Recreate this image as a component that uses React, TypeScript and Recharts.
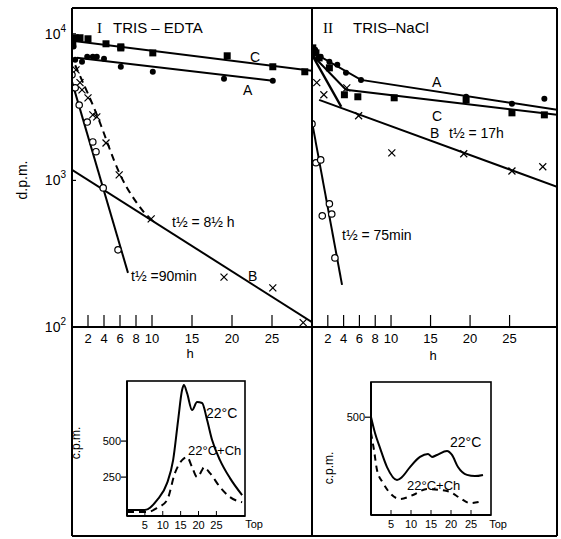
import React from 'react';
import { ComposedChart, LineChart, Line, Scatter, XAxis, YAxis } from 'recharts';

const W = 561;
const H = 539;
const FONT = '"Liberation Sans", Arial, sans-serif';
const AX_H = 30; // reserved axis height
const AX_W = 30; // reserved axis width

// ---------- shared axis ticks ----------
const hourTicks = [2, 4, 6, 8, 10, 15, 20, 25];
const dpmTicks = [100, 1000, 10000];
const dpmExp: Record<number, string> = { 100: '2', 1000: '3', 10000: '4' };
const fractionTicks = [5, 10, 15, 20, 25];

// ---------- Panel I : TRIS-EDTA ----------
const I_squareH = [0.1, 0.4, 1.0, 2.0, 4.25, 6.1, 6.1, 10.1, 19.4, 25.1, 29.1];
const I_squareV = [8820, 9400, 9400, 9250, 8550, 8150, 8010, 7410, 7080, 5960, 5510];
const I_dotH = [0.2, 0.4, 1.25, 1.9, 2.6, 3.1, 4.0, 6.1, 10.1, 19.0, 25.1];
const I_dotV = [8200, 6650, 6440, 6970, 6970, 6970, 6750, 5960, 5510, 4930, 4780];
const I_crossH = [0.5, 1.0, 1.25, 2.0, 2.6, 3.1, 4.25, 5.9, 9.9, 19.0, 25.1, 28.9];
const I_crossV = [5680, 4640, 4150, 3660, 2800, 2710, 1800, 1090, 546, 219, 185, 107];
const I_ringH = [0.0, 0.4, 0.9, 1.9, 2.6, 3.0, 3.9, 5.75];
const I_ringV = [5250, 4280, 3270, 2500, 1830, 1570, 889, 336];

const I_lineCH = [0, 30];
const I_lineCV = [8960, 5600];
const I_lineAH = [0.6, 25.1];
const I_lineAV = [6860, 4780];
const I_lineBH = [0, 30];
const I_lineBV = [1180, 108];
const I_dashBH = [0.4, 3.0, 6.0, 9.6];
const I_dashBV = [6100, 2900, 1100, 550];
const I_lineRingH = [0, 7.0];
const I_lineRingV = [4700, 234];

// ---------- Panel II : TRIS-NaCl ----------
const II_squareH = [0.1, 0.5, 0.9, 2.2, 4.1, 5.8, 10.4, 19.5, 25.3, 29.4];
const II_squareV = [8020, 7410, 6850, 5860, 3840, 3720, 3660, 3540, 2890, 2800];
const II_dotH = [0.4, 1.1, 2.2, 3.2, 4.3, 6.2, 19.5, 25.3, 29.4];
const II_dotV = [7780, 6970, 6440, 6140, 5420, 4850, 3720, 3330, 3600];
const II_crossH = [0.6, 1.5, 4.4, 5.9, 10.1, 19.2, 25.3, 29.2];
const II_crossV = [4640, 3840, 4280, 2760, 1540, 1520, 1160, 1240];
const II_ringH = [0.0, 0.5, 1.1, 2.2, 1.3, 2.5, 2.9];
const II_ringV = [2430, 1320, 1380, 692, 573, 590, 296];

const II_lineAH = [0, 6.2, 31];
const II_lineAV = [7540, 4850, 3030];
const II_lineCH = [0, 4.3, 31];
const II_lineCV = [7190, 4150, 2800];
const II_lineBH = [0.9, 31];
const II_lineBV = [3540, 904];
const II_fastBH = [0, 3.7];
const II_fastBV = [7190, 3180];
const II_lineRingH = [0, 3.8];
const II_lineRingV = [2510, 194];

// ---------- Inset 1 (gradient, TRIS-EDTA) ----------
const in1SolidX = [0, 5.0, 8.4, 11.2, 12.9, 14.3, 15.4, 15.9, 16.8, 18.2, 19.6, 21.0, 22.4, 23.8, 26.0, 28.8, 32.2];
const in1SolidY = [21, 21, 90, 208, 368, 646, 854, 889, 833, 715, 771, 764, 646, 507, 368, 243, 125];
const in1DashX = [0, 5.6, 8.4, 11.2, 13.4, 15.4, 16.8, 18.2, 19.6, 21.0, 21.5, 23.2, 26.0, 28.8, 32.2];
const in1DashY = [7, 7, 35, 90, 278, 368, 389, 319, 250, 299, 319, 278, 181, 111, 76];

// ---------- Inset 2 (gradient, TRIS-NaCl) ----------
const in2SolidX = [0, 1.0, 2.25, 4.0, 6.5, 7.75, 9.75, 12.25, 14.25, 15.25, 16.5, 19, 20.25, 21.75, 24, 26, 28];
const in2SolidY = [501, 419, 343, 245, 179, 194, 245, 297, 312, 297, 307, 327, 307, 245, 205, 199, 205];
const in2DashX = [0, 0.75, 1.5, 3, 4.75, 7.25, 10.5, 14, 17.25, 19.75, 22.25, 24.75, 28];
const in2DashY = [419, 332, 230, 164, 112, 82, 102, 133, 128, 118, 87, 61, 72];

const zipHV = (h: number[], v: number[]) => h.map((x, i) => ({ h: x, v: v[i] }));
const zipXY = (x: number[], y: number[]) => x.map((a, i) => ({ x: a, y: y[i] }));

// ---------- marker shapes ----------
const Square = (p: any) => <rect x={p.cx - 3.5} y={p.cy - 3.5} width={7} height={7} fill="#000" />;
const Dot = (p: any) => <circle cx={p.cx} cy={p.cy} r={3} fill="#000" />;
const Ring = (p: any) => (
  <circle cx={p.cx} cy={p.cy} r={3.2} fill="#fff" stroke="#000" strokeWidth={1.2} />
);
const Cross = (p: any) => (
  <g stroke="#000" strokeWidth={1.2}>
    <line x1={p.cx - 3.5} y1={p.cy - 3.5} x2={p.cx + 3.5} y2={p.cy + 3.5} />
    <line x1={p.cx - 3.5} y1={p.cy + 3.5} x2={p.cx + 3.5} y2={p.cy - 3.5} />
  </g>
);

// ---------- ticks ----------
const HourTick = (props: any) => {
  const { x, y, payload } = props;
  return (
    <g>
      <line x1={x} y1={y} x2={x} y2={y - 12} stroke="#000" strokeWidth={1.2} />
      <text x={x} y={y + 16} textAnchor="middle" fontSize={13} fontFamily={FONT} fill="#000">
        {payload.value}
      </text>
    </g>
  );
};

const DpmTick = (props: any) => {
  const { x, y, payload } = props;
  return (
    <g>
      <line x1={x} y1={y} x2={x + 4} y2={y} stroke="#000" strokeWidth={1.2} />
      <text x={x - 6} y={y + 5} textAnchor="end" fontSize={14} fontFamily={FONT} fill="#000">
        10
        <tspan dy={-7} fontSize={10}>
          {dpmExp[payload.value]}
        </tspan>
      </text>
    </g>
  );
};

const FracTick = (props: any) => {
  const { x, y, payload } = props;
  return (
    <g>
      <line x1={x} y1={y} x2={x} y2={y - 5} stroke="#000" strokeWidth={1} />
      <text x={x} y={y + 13} textAnchor="middle" fontSize={11} fontFamily={FONT} fill="#000">
        {payload.value}
      </text>
    </g>
  );
};

const CpmTick = (props: any) => {
  const { x, y, payload } = props;
  return (
    <g>
      <line x1={x - 6} y1={y} x2={x} y2={y} stroke="#000" strokeWidth={1.2} />
      <text x={x - 6} y={y + 4} textAnchor="end" fontSize={11} fontFamily={FONT} fill="#000">
        {payload.value}
      </text>
    </g>
  );
};

const abs: React.CSSProperties = { position: 'absolute', left: 0, top: 0 };
const axisStroke = { stroke: '#000', strokeWidth: 2 };

const xAxisCommon = {
  type: 'number' as const,
  tickLine: false,
  tickSize: 0,
  tickMargin: 0,
  height: AX_H,
  axisLine: axisStroke,
  allowDataOverflow: true,
  interval: 0 as const,
};
const yAxisCommon = {
  type: 'number' as const,
  tickLine: false,
  tickSize: 0,
  tickMargin: 0,
  width: AX_W,
  axisLine: axisStroke,
  allowDataOverflow: true,
  interval: 0 as const,
};

function PanelI() {
  return (
    <ComposedChart width={W} height={H} margin={{ top: 8, left: 72 - AX_W, right: W - 312, bottom: H - 327 - AX_H }}>
      <XAxis dataKey="h" domain={[0, 30]} ticks={hourTicks} tick={<HourTick />} {...xAxisCommon} />
      <YAxis dataKey="v" scale="log" domain={[100, 15000]} ticks={dpmTicks} tick={<DpmTick />} {...yAxisCommon} />
      <Line data={zipHV(I_lineCH, I_lineCV)} dataKey="v" stroke="#000" strokeWidth={2} dot={false} isAnimationActive={false} />
      <Line data={zipHV(I_lineAH, I_lineAV)} dataKey="v" stroke="#000" strokeWidth={2} dot={false} isAnimationActive={false} />
      <Line data={zipHV(I_lineBH, I_lineBV)} dataKey="v" stroke="#000" strokeWidth={2} dot={false} isAnimationActive={false} />
      <Line data={zipHV(I_dashBH, I_dashBV)} dataKey="v" type="monotone" stroke="#000" strokeWidth={2} strokeDasharray="7 5" dot={false} isAnimationActive={false} />
      <Line data={zipHV(I_lineRingH, I_lineRingV)} dataKey="v" stroke="#000" strokeWidth={2} dot={false} isAnimationActive={false} />
      <Scatter data={zipHV(I_squareH, I_squareV)} dataKey="v" shape={Square} isAnimationActive={false} />
      <Scatter data={zipHV(I_dotH, I_dotV)} dataKey="v" shape={Dot} isAnimationActive={false} />
      <Scatter data={zipHV(I_crossH, I_crossV)} dataKey="v" shape={Cross} isAnimationActive={false} />
      <Scatter data={zipHV(I_ringH, I_ringV)} dataKey="v" shape={Ring} isAnimationActive={false} />
    </ComposedChart>
  );
}

function PanelII() {
  return (
    <ComposedChart width={W} height={H} margin={{ top: 8, left: 312 - AX_W, right: W - 557, bottom: H - 327 - AX_H }}>
      <XAxis dataKey="h" domain={[0, 31]} ticks={hourTicks} tick={<HourTick />} {...xAxisCommon} />
      <YAxis dataKey="v" scale="log" domain={[100, 15000]} ticks={dpmTicks} tick={false} {...yAxisCommon} axisLine={false} />
      <Line data={zipHV(II_lineAH, II_lineAV)} dataKey="v" stroke="#000" strokeWidth={2} dot={false} isAnimationActive={false} />
      <Line data={zipHV(II_lineCH, II_lineCV)} dataKey="v" stroke="#000" strokeWidth={2} dot={false} isAnimationActive={false} />
      <Line data={zipHV(II_lineBH, II_lineBV)} dataKey="v" stroke="#000" strokeWidth={2} dot={false} isAnimationActive={false} />
      <Line data={zipHV(II_fastBH, II_fastBV)} dataKey="v" stroke="#000" strokeWidth={2.5} dot={false} isAnimationActive={false} />
      <Line data={zipHV(II_lineRingH, II_lineRingV)} dataKey="v" stroke="#000" strokeWidth={2} dot={false} isAnimationActive={false} />
      <Scatter data={zipHV(II_squareH, II_squareV)} dataKey="v" shape={Square} isAnimationActive={false} />
      <Scatter data={zipHV(II_dotH, II_dotV)} dataKey="v" shape={Dot} isAnimationActive={false} />
      <Scatter data={zipHV(II_crossH, II_crossV)} dataKey="v" shape={Cross} isAnimationActive={false} />
      <Scatter data={zipHV(II_ringH, II_ringV)} dataKey="v" shape={Ring} isAnimationActive={false} />
    </ComposedChart>
  );
}

function Inset1() {
  return (
    <LineChart width={W} height={H} margin={{ top: 381, left: 127 - AX_W, right: W - 245, bottom: H - 516 - AX_H }}>
      <XAxis dataKey="x" domain={[0, 33]} ticks={fractionTicks} tick={<FracTick />} {...xAxisCommon} />
      <YAxis domain={[-20, 917]} ticks={[250, 500]} tick={<CpmTick />} {...yAxisCommon} />
      <Line data={zipXY(in1SolidX, in1SolidY)} dataKey="y" type="monotone" stroke="#000" strokeWidth={2} dot={false} isAnimationActive={false} />
      <Line data={zipXY(in1DashX, in1DashY)} dataKey="y" type="monotone" stroke="#000" strokeWidth={2} strokeDasharray="7 5" dot={false} isAnimationActive={false} />
    </LineChart>
  );
}

function Inset2() {
  return (
    <LineChart width={W} height={H} margin={{ top: 382, left: 371 - AX_W, right: W - 491, bottom: H - 515 - AX_H }}>
      <XAxis dataKey="x" domain={[0, 30]} ticks={fractionTicks} tick={<FracTick />} {...xAxisCommon} />
      <YAxis domain={[0, 680]} ticks={[500]} tick={<CpmTick />} {...yAxisCommon} />
      <Line data={zipXY(in2SolidX, in2SolidY)} dataKey="y" type="monotone" stroke="#000" strokeWidth={2} dot={false} isAnimationActive={false} />
      <Line data={zipXY(in2DashX, in2DashY)} dataKey="y" type="monotone" stroke="#000" strokeWidth={2} strokeDasharray="6 5" dot={false} isAnimationActive={false} />
    </LineChart>
  );
}

function Overlay() {
  const t = { fontFamily: FONT, fill: '#000' } as const;
  return (
    <svg width={W} height={H} style={abs}>
      {/* outer frame */}
      <g stroke="#000" strokeWidth={2} fill="none">
        <line x1={72} y1={8} x2={557} y2={8} />
        <line x1={72} y1={8} x2={72} y2={536} />
        <line x1={557} y1={8} x2={557} y2={536} />
        <line x1={312} y1={8} x2={312} y2={536} />
        <line x1={72} y1={536} x2={557} y2={536} />
        <line x1={72} y1={327} x2={557} y2={327} />
        <rect x={127} y={381} width={118} height={135} strokeWidth={1.6} />
        <rect x={371} y={382} width={120} height={133} strokeWidth={1.6} />
      </g>
      {/* axis titles */}
      <text {...t} transform="translate(27,180) rotate(-90)" textAnchor="middle" fontSize={14}>d.p.m.</text>
      <text {...t} x={190} y={358} textAnchor="middle" fontSize={13}>h</text>
      <text {...t} x={433} y={360} textAnchor="middle" fontSize={13}>h</text>
      {/* panel I annotations */}
      <text {...t} x={97} y={33} fontSize={15} fontFamily="'Liberation Serif', serif">I</text>
      <text {...t} x={113} y={33} fontSize={15}>TRIS – EDTA</text>
      <text {...t} x={250} y={62} fontSize={14}>C</text>
      <text {...t} x={243} y={95} fontSize={14}>A</text>
      <text {...t} x={172} y={227} fontSize={14}>t½ = 8½ h</text>
      <text {...t} x={131} y={281} fontSize={14}>t½ =90min</text>
      <text {...t} x={248} y={281} fontSize={14}>B</text>
      {/* panel II annotations */}
      <text {...t} x={323} y={33} fontSize={15} fontFamily="'Liberation Serif', serif">II</text>
      <text {...t} x={353} y={33} fontSize={15}>TRIS–NaCl</text>
      <text {...t} x={432} y={87} fontSize={14}>A</text>
      <text {...t} x={432} y={121} fontSize={14}>C</text>
      <text {...t} x={430} y={138} fontSize={14}>B</text>
      <text {...t} x={449} y={138} fontSize={14}>t½ = 17h</text>
      <text {...t} x={342} y={240} fontSize={14}>t½ = 75min</text>
      {/* inset 1 */}
      <text {...t} transform="translate(80,443) rotate(-90)" textAnchor="middle" fontSize={12}>c.p.m.</text>
      <text {...t} x={206} y={418} fontSize={14}>22°C</text>
      <text {...t} x={188} y={455} fontSize={13}>22°C+Ch</text>
      <text {...t} x={254} y={528} textAnchor="middle" fontSize={11}>Top</text>
      {/* inset 2 */}
      <text {...t} transform="translate(333,468) rotate(-90)" textAnchor="middle" fontSize={12}>c.p.m.</text>
      <text {...t} x={450} y={447} fontSize={14}>22°C</text>
      <text {...t} x={407} y={490} fontSize={13}>22°C+Ch</text>
      <text {...t} x={498} y={528} textAnchor="middle" fontSize={11}>Top</text>
    </svg>
  );
}

export default function App() {
  return (
    <div style={{ position: 'absolute', left: 0, top: 0, width: W, height: H, background: '#fff', overflow: 'hidden' }}>
      <div style={abs}><PanelI /></div>
      <div style={abs}><PanelII /></div>
      <div style={abs}><Inset1 /></div>
      <div style={abs}><Inset2 /></div>
      <Overlay />
    </div>
  );
}
